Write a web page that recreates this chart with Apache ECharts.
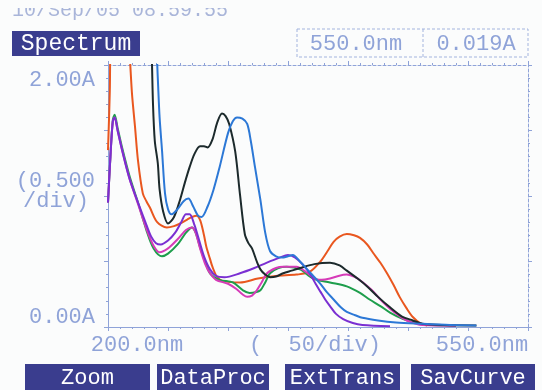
<!DOCTYPE html>
<html>
<head>
<meta charset="utf-8">
<script src="https://cdn.jsdelivr.net/npm/echarts/dist/echarts.min.js"></script>
<style>
  html, body { margin: 0; padding: 0; background: #fbfcfc; }
  #chart { width: 542px; height: 390px; }
</style>
</head>
<body>
<div id="chart"></div>
<script>
// wavelength (nm) / absorbance (A) pairs
const blueCurve = [[200,2.6],[236,2.6],[240,2.2],[241.5,1.9],[243,1.6],[245,1.35],[247.5,1.02],[250,0.9],[253,0.86],[258,0.9],[263,0.96],[267,0.98],[271,0.92],[275,0.85],[278,0.84],[283,0.92],[288,1.05],[293,1.22],[300,1.48],[304,1.57],[307.5,1.6],[312,1.59],[316,1.55],[319,1.42],[322.5,1.22],[327,0.97],[331,0.72],[335,0.58],[340,0.54],[345,0.53],[350,0.54],[354,0.55],[360,0.5],[366,0.44],[372,0.38],[377,0.33],[382,0.27],[388,0.21],[394,0.15],[399,0.115],[406,0.09],[412,0.07],[425,0.05],[440,0.035],[460,0.025],[485,0.015],[507,0.012]];
const blackCurve = [[200,2.6],[233,2.6],[236,2.2],[237.5,1.7],[239,1.42],[241.5,1.25],[243,1.05],[246,0.88],[250,0.79],[255,0.84],[260,0.97],[264,1.1],[268,1.22],[272,1.32],[276.7,1.38],[280,1.38],[283,1.37],[287,1.43],[291,1.56],[295,1.63],[298,1.61],[301,1.55],[306,1.34],[310,1.01],[314,0.71],[317,0.64],[320,0.6],[324,0.5],[327,0.44],[331,0.4],[335,0.38],[340,0.385],[346,0.41],[353,0.43],[360,0.45],[372,0.48],[385,0.49],[393,0.47],[399,0.43],[408,0.37],[416,0.31],[425,0.23],[435,0.15],[445,0.08],[454,0.05],[462,0.025],[480,0.015],[507,0.012]];
const orangeCurve = [[200,1.35],[201.5,1.8],[203,2.6],[215,2.6],[217,2.2],[218.3,2.04],[220,1.78],[222.5,1.53],[225,1.27],[229,1.02],[232,0.96],[235,0.91],[241,0.8],[249,0.76],[255,0.77],[260,0.79],[266,0.82],[270,0.84],[274,0.85],[277,0.81],[280,0.7],[282,0.61],[285,0.52],[287,0.46],[291,0.38],[296,0.35],[310,0.34],[325,0.37],[340,0.39],[357,0.4],[368,0.42],[377,0.5],[383,0.58],[388,0.65],[393,0.69],[399,0.71],[405,0.7],[410,0.68],[416,0.63],[421,0.565],[427,0.49],[432.5,0.41],[438,0.32],[443,0.23],[449,0.14],[454,0.076],[460,0.03],[466,0.012]];
const greenCurve = [[200,0.95],[202,1.3],[204,1.58],[205.5,1.62],[208,1.52],[212,1.36],[218,1.15],[225,0.95],[232,0.74],[238,0.6],[245,0.54],[250,0.56],[258,0.63],[265,0.72],[270,0.76],[273,0.72],[276.7,0.61],[281,0.5],[285,0.41],[293,0.36],[304,0.34],[312.5,0.28],[318,0.26],[323,0.265],[327,0.28],[331,0.34],[335,0.41],[342,0.45],[349,0.46],[360,0.44],[371,0.37],[385,0.34],[399,0.31],[410,0.26],[418,0.21],[427,0.16],[435,0.11],[446,0.06],[457,0.03],[470,0.015],[490,0.01]];
const magentaCurve = [[200,0.95],[202,1.3],[204,1.57],[205.5,1.6],[208,1.5],[212,1.34],[218,1.13],[225,0.94],[232,0.75],[238,0.62],[243,0.57],[250,0.6],[258,0.67],[265,0.74],[270,0.76],[273,0.72],[276.7,0.6],[281,0.48],[285,0.41],[290,0.36],[300,0.33],[307,0.29],[312,0.25],[316,0.23],[320,0.24],[324,0.28],[328,0.34],[332.5,0.41],[340,0.45],[346,0.46],[357,0.46],[365,0.42],[372,0.37],[378,0.36],[385,0.37],[392,0.39],[399,0.4],[406,0.38],[412.5,0.34],[420,0.28],[427,0.21],[435,0.14],[442,0.09],[449,0.05],[462,0.015],[490,0.01]];
const purpleCurve = [[200,0.95],[202,1.3],[204,1.57],[205.5,1.6],[208,1.5],[212,1.34],[218,1.13],[225,0.95],[232,0.78],[236,0.69],[240,0.64],[244,0.63],[250,0.66],[256,0.72],[261,0.8],[265,0.86],[268,0.86],[272,0.78],[276,0.66],[280,0.54],[285,0.44],[290,0.39],[297,0.38],[310,0.41],[322,0.45],[332,0.49],[343,0.53],[350,0.55],[356,0.53],[362,0.48],[368,0.41],[373,0.33],[377,0.27],[381,0.21],[385,0.16],[390,0.1],[396,0.06],[404,0.03],[412,0.015],[435,0.005]];

const curves = [
  { data: orangeCurve, color: "#e9571f" },
  { data: greenCurve, color: "#1e9e4c" },
  { data: magentaCurve, color: "#d63bb8" },
  { data: purpleCurve, color: "#7a2fd2" },
  { data: blackCurve, color: "#1c2a2c" },
  { data: blueCurve, color: "#2c78d6" }
];

const yLabels = ["2.00A", "(0.500", "/div)", "0.00A"];
const xLabels = ["200.0nm", "(  50/div)", "550.0nm"];
const buttons = ["Zoom", "DataProc", "ExtTrans", "SavCurve"];
const readout = ["550.0nm", "0.019A"];

const mono = "Liberation Mono";
const faint = "#8fa3d8";
const navy = "#3a3d8e";
const bg = "#fbfcfc";

const axisBase = {
  type: "value",
  axisLabel: { show: false },
  splitLine: { show: false },
  axisTick: { show: true, length: 4, lineStyle: { color: faint } },
  minorTick: { show: true, splitNumber: 5, length: 2, lineStyle: { color: faint } }
};

function frameAxis(extra, dashed) {
  return Object.assign({}, axisBase, extra, {
    axisLine: { show: true, onZero: false, lineStyle: { color: faint, width: 1, type: dashed ? [3, 2] : "solid" } }
  });
}

function label(text, x, y, align, size, color) {
  return {
    type: "text", x: x, y: y,
    style: { text: text, font: `${size}px "${mono}"`, fill: color, textAlign: align, textVerticalAlign: "middle" }
  };
}

const graphics = [
  label("10/Sep/05 08:59:55", 12, 11, "left", 20, "#a9b5d9"),
  { type: "rect", shape: { x: 0, y: 0, width: 542, height: 8 }, style: { fill: bg }, z: 10 },
  { type: "rect", shape: { x: 12, y: 31, width: 128, height: 25 }, style: { fill: navy } },
  label("Spectrum", 76, 44, "center", 23, "#ffffff"),
  { type: "rect", shape: { x: 297, y: 29, width: 231, height: 28 }, style: { fill: "none", stroke: "#a3b4de", lineDash: [3, 2] } },
  { type: "line", shape: { x1: 423, y1: 29, x2: 423, y2: 57 }, style: { stroke: "#a3b4de", lineDash: [3, 2] } },
  label(readout[0], 356, 44, "center", 22, faint),
  label(readout[1], 476, 44, "center", 22, faint),
  label(yLabels[0], 95, 80, "right", 22, faint),
  label(yLabels[1], 95, 181, "right", 22, faint),
  label(yLabels[2], 89, 201, "right", 22, faint),
  label(yLabels[3], 95, 317, "right", 22, faint),
  label(xLabels[0], 137, 345, "center", 22, faint),
  label(xLabels[1], 315, 345, "center", 22, faint),
  label(xLabels[2], 482, 345, "center", 22, faint)
];

const buttonBoxes = [[25, 125], [157, 112], [285, 115], [411, 124]];
buttons.forEach((b, i) => {
  const [bx, bw] = buttonBoxes[i];
  graphics.push({ type: "rect", shape: { x: bx, y: 364, width: bw, height: 26 }, style: { fill: navy } });
  graphics.push(label(b, bx + bw / 2, 378, "center", 22, "#ffffff"));
});

const chart = echarts.init(document.getElementById("chart"));
chart.setOption({
  backgroundColor: bg,
  animation: false,
  grid: { left: 108, right: 14, top: 65, bottom: 63 },
  xAxis: [
    frameAxis({ min: 200, max: 550, interval: 50, position: "bottom" }, false),
    frameAxis({ min: 200, max: 550, interval: 50, position: "top" }, true)
  ],
  yAxis: [
    frameAxis({ min: 0, max: 2, interval: 0.5, position: "left" }, false),
    frameAxis({ min: 0, max: 2, interval: 0.5, position: "right" }, true)
  ],
  series: curves.map(c => ({
    type: "line",
    data: c.data,
    xAxisIndex: 0,
    yAxisIndex: 0,
    showSymbol: false,
    smooth: 0.3,
    clip: true,
    lineStyle: { color: c.color, width: 2 }
  })),
  graphic: graphics
});
</script>
</body>
</html>
